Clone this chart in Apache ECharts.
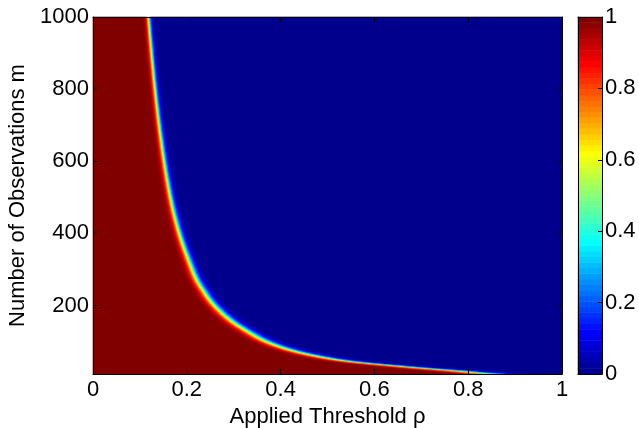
<!DOCTYPE html>
<html><head><meta charset="utf-8">
<script src="https://cdn.jsdelivr.net/npm/echarts@6/dist/echarts.min.js"></script>
<style>html,body{margin:0;padding:0;background:#fff}#c{width:639px;height:428px}</style>
</head><body><div id="c"></div>
<script>
// ---- data ----
// location (value 0.5) of the red/blue transition for a set of m values
const boundaryM   = [10, 14, 19.4, 25, 33, 47, 61, 80, 103, 131, 158, 186, 214, 242, 269, 325, 408, 492, 658, 825, 1000];
const boundaryRho = [0.86, 0.82, 0.776, 0.72, 0.648, 0.54, 0.475, 0.415, 0.367, 0.328, 0.296, 0.271, 0.251, 0.236, 0.223, 0.205, 0.183, 0.167, 0.146, 0.131, 0.119];
const transitionRelWidth = 0.025;   // width of the transition relative to boundary rho
const xTicks  = [0, 0.2, 0.4, 0.6, 0.8, 1];
const yTicks  = [200, 400, 600, 800, 1000];
const cbTicks = [0, 0.2, 0.4, 0.6, 0.8, 1];
const rhoRange = [0, 1];
const mRange   = [10, 1000];
const xName = 'Applied Threshold ρ';
const yName = 'Number of Observations m';

// ---- grid of cells ----
const nRho = 469, nM = 357;
const rhoCats = [], mCats = [];
for (let j = 0; j < nRho; j++) rhoCats.push(rhoRange[0] + (j + 0.5) * (rhoRange[1] - rhoRange[0]) / nRho);
for (let i = 0; i < nM; i++) mCats.push(mRange[0] + (i + 0.5) * (mRange[1] - mRange[0]) / nM);

// monotone cubic (PCHIP) through the read boundary points, in log(m)
const bx = boundaryM.map(Math.log), by = boundaryRho.slice();
const nB = bx.length, hB = [], dB = [], sB = [];
for (let k = 0; k < nB - 1; k++) { hB.push(bx[k + 1] - bx[k]); dB.push((by[k + 1] - by[k]) / hB[k]); }
sB.push(dB[0]);
for (let k = 1; k < nB - 1; k++) {
  if (dB[k - 1] * dB[k] <= 0) sB.push(0);
  else { const w1 = 2 * hB[k] + hB[k - 1], w2 = hB[k] + 2 * hB[k - 1]; sB.push((w1 + w2) / (w1 / dB[k - 1] + w2 / dB[k])); }
}
sB.push(dB[nB - 2]);
function boundaryAt(m) {
  const x = Math.log(m);
  if (x <= bx[0]) return by[0];
  if (x >= bx[nB - 1]) return by[nB - 1];
  let k = 0; while (x > bx[k + 1]) k++;
  const h = hB[k], t = (x - bx[k]) / h;
  const h00 = 2*t*t*t - 3*t*t + 1, h10 = t*t*t - 2*t*t + t, h01 = -2*t*t*t + 3*t*t, h11 = t*t*t - t*t;
  return h00 * by[k] + h10 * h * sB[k] + h01 * by[k + 1] + h11 * h * sB[k + 1];
}
const cells = [];
for (let i = 0; i < nM; i++) {
  const rb = boundaryAt(mCats[i]);
  const w = transitionRelWidth * rb;
  for (let j = 0; j < nRho; j++) {
    const v = 1 / (1 + Math.exp((rhoCats[j] - rb) / w));
    cells.push([j, i, v]);
  }
}

// ---- MATLAB jet(64) colormap ----
function jet(n) {
  const q = Math.ceil(n / 4);
  const u = [];
  for (let k = 1; k <= q; k++) u.push(k / q);
  for (let k = 1; k < q; k++) u.push(1);
  for (let k = q; k >= 1; k--) u.push(k / q);
  const J = Array.from({length: n}, () => [0, 0, 0]);
  const g0 = Math.ceil(q / 2) - (n % 4 === 1 ? 1 : 0);
  const g = u.map((_, k) => g0 + k + 1);
  const r = g.map(x => x + q).filter(x => x <= n);
  const b = g.map(x => x - q).filter(x => x >= 1);
  const gg = g.filter(x => x <= n);
  r.forEach((idx, k) => J[idx - 1][0] = u[k]);
  gg.forEach((idx, k) => J[idx - 1][1] = u[k]);
  b.forEach((idx, k) => J[idx - 1][2] = u[u.length - b.length + k]);
  return J.map(c => 'rgb(' + c.map(x => Math.round(x * 255)).join(',') + ')');
}
const cmap = jet(64);
const pieces = cmap.map((c, k) => k === 63 ? {gte: k / 64, lte: 1, color: c} : {gte: k / 64, lt: (k + 1) / 64, color: c});
const cbCats = cmap.map((_, k) => k);
const cbCells = cmap.map((_, k) => [0, k, (k + 0.5) / 64]);

const font = 'Liberation Sans, Arial, Helvetica, sans-serif';
const FS = 22;
const G = {left: 93, top: 17, width: 469, height: 357, outerBoundsMode: 'none', containLabel: false};
const CB = {left: 578, top: 17, width: 24, height: 357, outerBoundsMode: 'none', containLabel: false};
const line = {show: true, onZero: false, lineStyle: {color: '#000', width: 1}};
const tick = {show: true, inside: true, length: 5, lineStyle: {color: '#000', width: 1}};
const fmt = ticks => (v => ticks.includes(+(+v).toFixed(2)) ? String(+(+v).toFixed(2)) : '');

const option = {
  animation: false,
  backgroundColor: '#fff',
  grid: [Object.assign({}, G), Object.assign({}, G), Object.assign({}, CB)],
  visualMap: {type: 'piecewise', show: false, dimension: 2, seriesIndex: [0, 1], pieces: pieces},
  xAxis: [
    {type: 'category', gridIndex: 0, data: rhoCats, show: false},
    {type: 'value', gridIndex: 1, min: rhoRange[0], max: rhoRange[1], interval: 0.2, position: 'bottom', z: 10,
      axisLine: line, axisTick: tick, splitLine: {show: false},
      axisLabel: {color: '#000', fontFamily: font, fontSize: FS, margin: 5, formatter: fmt(xTicks)},
      name: xName, nameLocation: 'middle', nameGap: 27,
      nameTextStyle: {color: '#000', fontFamily: font, fontSize: FS}},
    {type: 'value', gridIndex: 1, min: rhoRange[0], max: rhoRange[1], interval: 0.2, position: 'top', z: 10,
      axisLine: line, axisTick: tick, splitLine: {show: false}, axisLabel: {show: false}},
    {type: 'category', gridIndex: 2, data: ['c'], position: 'bottom', z: 10,
      axisLine: line, axisTick: {show: false}, axisLabel: {show: false}},
    {type: 'value', gridIndex: 2, min: 0, max: 1, position: 'top', z: 10,
      axisLine: line, axisTick: {show: false}, axisLabel: {show: false}, splitLine: {show: false}}
  ],
  yAxis: [
    {type: 'category', gridIndex: 0, data: mCats, show: false},
    {type: 'value', gridIndex: 1, min: mRange[0], max: mRange[1], position: 'left', z: 10,
      axisLine: line, axisTick: Object.assign({customValues: yTicks}, tick), splitLine: {show: false},
      axisLabel: {customValues: yTicks, color: '#000', fontFamily: font, fontSize: FS, margin: 4,
        formatter: v => String(v)},
      name: yName, nameLocation: 'middle', nameGap: 58,
      nameTextStyle: {color: '#000', fontFamily: font, fontSize: FS}},
    {type: 'value', gridIndex: 1, min: mRange[0], max: mRange[1], position: 'right', z: 10,
      axisLine: line, axisTick: Object.assign({customValues: yTicks}, tick), splitLine: {show: false},
      axisLabel: {show: false}},
    {type: 'category', gridIndex: 2, data: cbCats, position: 'left', z: 10,
      axisLine: line, axisTick: {show: false}, axisLabel: {show: false}},
    {type: 'value', gridIndex: 2, min: 0, max: 1, interval: 0.2, position: 'right', z: 10,
      axisLine: line, axisTick: Object.assign({}, tick, {length: 4}), splitLine: {show: false},
      axisLabel: {color: '#000', fontFamily: font, fontSize: FS, margin: 3, formatter: fmt(cbTicks)}}
  ],
  series: [
    {type: 'heatmap', xAxisIndex: 0, yAxisIndex: 0, data: cells, progressive: 0, emphasis: {disabled: true}},
    {type: 'heatmap', xAxisIndex: 3, yAxisIndex: 3, data: cbCells, progressive: 0, emphasis: {disabled: true}}
  ]
};
const chart = echarts.init(document.getElementById('c'), null, {renderer: 'canvas'});
chart.setOption(option);
</script>
</body></html>
